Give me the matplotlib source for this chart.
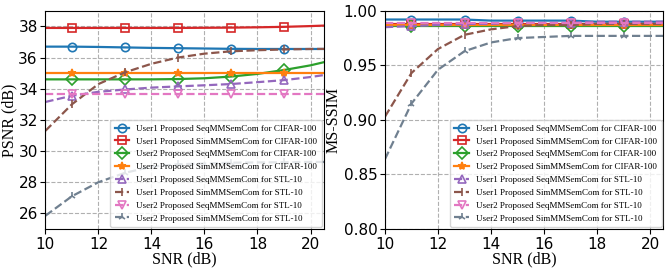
import numpy as np
import matplotlib
matplotlib.use("Agg")
import matplotlib.pyplot as plt

snr = [10, 11, 12, 13, 14, 15, 16, 17, 18, 19, 20, 21]

labels = ["User1 Proposed SeqMMSemCom for CIFAR-100",
          "User1 Proposed SimMMSemCom for CIFAR-100",
          "User2 Proposed SeqMMSemCom for CIFAR-100",
          "User2 Proposed SimMMSemCom for CIFAR-100",
          "User1 Proposed SeqMMSemCom for STL-10",
          "User1 Proposed SimMMSemCom for STL-10",
          "User2 Proposed SeqMMSemCom for STL-10",
          "User2 Proposed SimMMSemCom for STL-10"]

psnr_u1_seq_cifar = [36.70, 36.70, 36.68, 36.65, 36.62, 36.60, 36.58, 36.56, 36.55, 36.55, 36.55, 36.55]
psnr_u1_sim_cifar = [37.90, 37.90, 37.90, 37.90, 37.90, 37.90, 37.91, 37.92, 37.94, 37.97, 38.02, 38.08]
psnr_u2_seq_cifar = [34.60, 34.60, 34.60, 34.60, 34.60, 34.62, 34.67, 34.78, 34.95, 35.20, 35.50, 35.90]
psnr_u2_sim_cifar = [35.00, 35.00, 35.00, 35.00, 35.00, 35.00, 35.00, 35.00, 35.00, 35.00, 35.00, 35.00]
psnr_u1_seq_stl = [33.15, 33.55, 33.80, 33.95, 34.07, 34.15, 34.22, 34.30, 34.42, 34.55, 34.75, 35.00]
psnr_u1_sim_stl = [31.30, 33.00, 34.30, 35.05, 35.60, 36.00, 36.25, 36.40, 36.47, 36.52, 36.55, 36.56]
psnr_u2_seq_stl = [33.65, 33.65, 33.65, 33.65, 33.65, 33.65, 33.65, 33.65, 33.65, 33.65, 33.65, 33.65]
psnr_u2_sim_stl = [25.85, 27.10, 28.00, 28.60, 29.00, 29.15, 29.20, 29.25, 29.27, 29.28, 29.30, 29.30]

ssim_u1_seq_cifar = [0.992, 0.992, 0.992, 0.992, 0.991, 0.991, 0.991, 0.991, 0.990, 0.990, 0.990, 0.990]
ssim_u1_sim_cifar = [0.988, 0.988, 0.988, 0.988, 0.988, 0.988, 0.988, 0.988, 0.988, 0.988, 0.988, 0.988]
ssim_u2_seq_cifar = [0.986, 0.986, 0.986, 0.986, 0.986, 0.986, 0.986, 0.986, 0.986, 0.986, 0.986, 0.986]
ssim_u2_sim_cifar = [0.987, 0.987, 0.987, 0.987, 0.987, 0.987, 0.987, 0.987, 0.987, 0.987, 0.987, 0.987]
ssim_u1_seq_stl = [0.985, 0.986, 0.987, 0.988, 0.988, 0.989, 0.989, 0.989, 0.990, 0.990, 0.990, 0.990]
ssim_u1_sim_stl = [0.903, 0.943, 0.965, 0.978, 0.983, 0.986, 0.987, 0.987, 0.988, 0.988, 0.988, 0.988]
ssim_u2_seq_stl = [0.989, 0.989, 0.989, 0.989, 0.989, 0.989, 0.989, 0.989, 0.989, 0.989, 0.989, 0.989]
ssim_u2_sim_stl = [0.864, 0.915, 0.946, 0.963, 0.971, 0.975, 0.976, 0.977, 0.977, 0.977, 0.977, 0.977]

psnr_data = [psnr_u1_seq_cifar, psnr_u1_sim_cifar, psnr_u2_seq_cifar, psnr_u2_sim_cifar,
             psnr_u1_seq_stl, psnr_u1_sim_stl, psnr_u2_seq_stl, psnr_u2_sim_stl]
ssim_data = [ssim_u1_seq_cifar, ssim_u1_sim_cifar, ssim_u2_seq_cifar, ssim_u2_sim_cifar,
             ssim_u1_seq_stl, ssim_u1_sim_stl, ssim_u2_seq_stl, ssim_u2_sim_stl]

colors = ["tab:blue", "tab:red", "tab:green", "tab:orange",
          "tab:purple", "tab:brown", "tab:pink", "#708090"]
markers = ["o", "s", "D", "*", "^", "|", "v", "2"]
styles = ["-", "-", "-", "-", "--", "--", "--", "--"]

serif = ["Liberation Serif", "DejaVu Serif"]

fig, (ax1, ax2) = plt.subplots(1, 2, figsize=(6.68, 2.7), dpi=100)
fig.subplots_adjust(left=0.068, right=0.993, top=0.96, bottom=0.152, wspace=0.22)

def draw(ax, data, ylabel, ylim, yticks, yfmt):
    for y, c, m, ls, lab in zip(data, colors, markers, styles, labels):
        fc = c if m in ("*", "|", "2") else "none"
        ax.plot(snr, y, color=c, linestyle=ls, linewidth=1.6, marker=m,
                markersize=6, markerfacecolor=fc, markeredgewidth=1.2,
                markevery=slice(1, None, 2), label=lab)
    ax.set_xlim(10, 20.5)
    ax.set_ylim(*ylim)
    ax.set_xticks([10, 12, 14, 16, 18, 20])
    ax.set_yticks(yticks)
    ax.set_yticklabels([yfmt.format(v) for v in yticks])
    ax.tick_params(labelsize=11, pad=2)
    ax.grid(True, linestyle="--", color="#b0b0b0", linewidth=0.8)
    ax.set_xlabel("SNR (dB)", family=serif, fontsize=11.5, labelpad=0)
    ax.set_ylabel(ylabel, family=serif, fontsize=11.5, labelpad=1)
    ax.legend(loc="lower right", prop={"family": serif, "size": 6.5},
              labelspacing=0.5, handlelength=1.6, borderpad=0.5,
              borderaxespad=0.2, framealpha=0.8)

draw(ax1, psnr_data, "PSNR (dB)", (25, 39), [26, 28, 30, 32, 34, 36, 38], "{:d}")
draw(ax2, ssim_data, "MS-SSIM", (0.80, 1.00), [0.80, 0.85, 0.90, 0.95, 1.00], "{:.2f}")

fig.savefig("out.png", dpi=100)
